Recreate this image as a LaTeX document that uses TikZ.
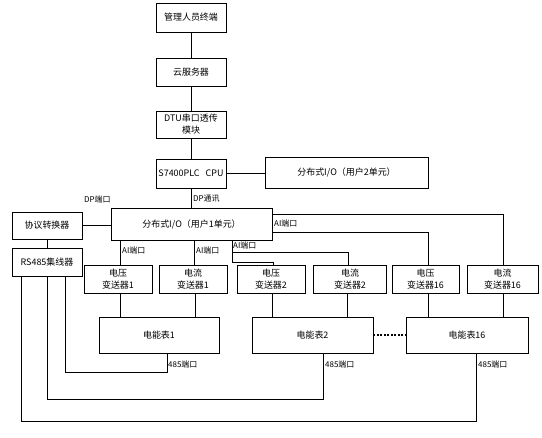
\documentclass[tikz,border=0pt]{standalone}
\usepackage{fontspec}
\setmainfont{Noto Sans CJK SC}
\begin{document}
\begin{tikzpicture}[x=1bp,y=-1bp,
  box/.style={draw, line width=0.8bp, inner sep=0pt, align=center, font=\fontsize{9}{12}\selectfont},
  lbl/.style={inner sep=0pt, anchor=west, font=\fontsize{8}{9}\selectfont},
  wire/.style={line width=0.8bp}]
\useasboundingbox[fill=white] (0,0) rectangle (542,438);
% top chain
\node[box, minimum width=70bp, minimum height=29bp] (t1) at (191,17.5) {管理人员终端};
\node[box, minimum width=70bp, minimum height=28bp] (t2) at (191,72) {云服务器};
\node[box, minimum width=70bp, minimum height=27bp] (t3) at (191,124.5) {DTU串口透传\\模块};
\node[box, minimum width=70bp, minimum height=29bp] (cpu) at (191,173.5) {S7400PLC\ \ \ CPU};
\node[box, minimum width=163bp, minimum height=31bp] (io2) at (346.5,172.5) {分布式I/O（用户2单元）};
\node[box, minimum width=161bp, minimum height=32bp] (io1) at (191.5,224) {分布式I/O（用户1单元）};
\node[box, minimum width=70bp, minimum height=27bp] (prot) at (47,225.5) {协议转换器};
\node[box, minimum width=70bp, minimum height=28bp] (hub) at (47,262) {RS485集线器};
% transformers
\node[box, minimum width=68bp, minimum height=28bp] (vt1) at (118,279) {电压\\变送器1};
\node[box, minimum width=68bp, minimum height=28bp] (ct1) at (193,279) {电流\\变送器1};
\node[box, minimum width=68bp, minimum height=28bp] (vt2) at (271,279) {电压\\变送器2};
\node[box, minimum width=73bp, minimum height=28bp] (ct2) at (350,279) {电流\\变送器2};
\node[box, minimum width=67bp, minimum height=28bp] (vt16) at (425.5,279) {电压\\变送器16};
\node[box, minimum width=71bp, minimum height=28bp] (ct16) at (502.5,279) {电流\\变送器16};
% meters
\node[box, minimum width=120bp, minimum height=36bp] (m1) at (159,335) {电能表1};
\node[box, minimum width=121bp, minimum height=36bp] (m2) at (312.5,335) {电能表2};
\node[box, minimum width=122bp, minimum height=36bp] (m16) at (467,335) {电能表16};
% top chain wires
\draw[wire] (t1.south) -- (t2.north);
\draw[wire] (t2.south) -- (t3.north);
\draw[wire] (t3.south) -- (cpu.north);
\draw[wire] (cpu.east) -- (cpu.east -| io2.west);
\draw[wire] (cpu.south) -- (io1.north -| cpu.south);
\draw[wire] (prot.east) -- (prot.east -| io1.west);
\draw[wire] (prot.south) -- (hub.north);
% AI ports
\draw[wire] (io1.south -| 120,0) -- (vt1.north -| 120,0);
\draw[wire] (io1.south -| 194,0) -- (ct1.north -| 194,0);
\draw[wire] (io1.south -| 232,0) |- (273,262) -- (vt2.north -| 273,0);
\draw[wire] (232,252) -| (ct2.north -| 348,0);
\draw[wire] (io1.east |- 0,214) -| (ct16.north -| 503,0);
\draw[wire] (io1.east |- 0,232) -| (vt16.north -| 428,0);
% transformers to meters
\draw[wire] (vt1.south -| 120,0) -- (m1.north -| 120,0);
\draw[wire] (ct1.south -| 195,0) -- (m1.north -| 195,0);
\draw[wire] (vt2.south -| 272,0) -- (m2.north -| 272,0);
\draw[wire] (ct2.south -| 347,0) -- (m2.north -| 347,0);
\draw[wire] (vt16.south -| 428,0) -- (m16.north -| 428,0);
\draw[wire] (ct16.south -| 503,0) -- (m16.north -| 503,0);
% dotted link
\draw[line width=1.6bp, dash pattern=on 2bp off 1.5bp] (m2.east) -- (m16.west);
% 485 buses
\draw[wire] (m1.south -| 167,0) |- (65,372) -- (hub.south -| 65,0);
\draw[wire] (m2.south -| 323,0) |- (47,399) -- (hub.south -| 47,0);
\draw[wire] (m16.south -| 476,0) |- (21,421) -- (hub.south -| 21,0);
% labels
\node[lbl] (l1) at (84,199) {DP端口};
\node[lbl] (l2) at (193,199) {DP通讯};
\node[lbl] (l3) at (122,250) {AI端口};
\node[lbl] (l4) at (196,250) {AI端口};
\node[lbl] (l5) at (233,245) {AI端口};
\node[lbl] (l6) at (274,223) {AI端口};
\node[lbl] (l7) at (168,364) {485端口};
\node[lbl] (l8) at (325,364) {485端口};
\node[lbl] (l9) at (478,364) {485端口};
\end{tikzpicture}
\end{document}
